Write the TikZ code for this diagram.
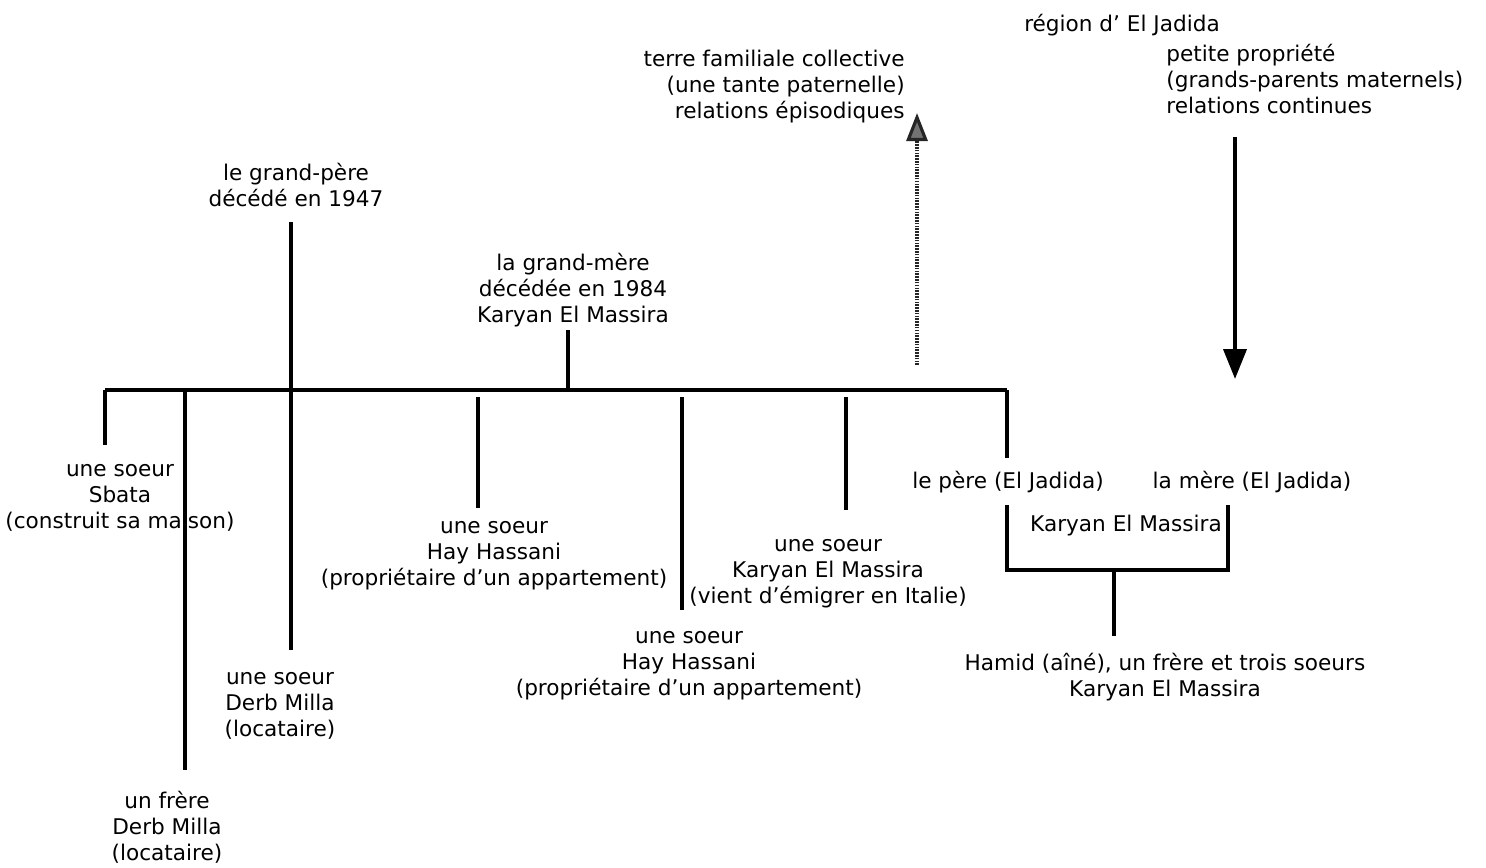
\documentclass[tikz,border=0pt]{standalone}
\usepackage{fontspec}
\setmainfont{DejaVu Sans}
\usetikzlibrary{arrows.meta}

\begin{document}
\begin{tikzpicture}[x=0.02cm,y=-0.02cm,
    lbl/.style={align=center,anchor=base,inner sep=0pt,font=\fontsize{12.3}{14.8}\selectfont},
    tree/.style={line width=1.9pt},
    faint/.style={draw=black!85,line width=1.8pt,dash pattern=on 0.9pt off 0.7pt,-{Triangle[width=12pt,length=16pt,fill=black!55]}},
    strong/.style={line width=2.3pt,-{Triangle[width=13pt,length=17pt]}}]
\useasboundingbox (0,0) rectangle (1486,867);

% outside links
\node[lbl,align=right,anchor=base east] (terre) at (905,118) {terre familiale collective\\(une tante paternelle)\\relations épisodiques};
\node[lbl] (region) at (1122,31) {région d' El Jadida};
\node[lbl,align=left,anchor=base west] (petite) at (1166,113) {petite propriété\\(grands-parents maternels)\\relations continues};

% grand-parents
\node[lbl] (gp) at (296,206) {le grand-père\\décédé en 1947};
\node[lbl] (gm) at (573,322) {la grand-mère\\décédée en 1984\\Karyan El Massira};

% children
\node[lbl] (s1) at (120,528) {une soeur\\Sbata\\(construit sa maison)};
\node[lbl] (f1) at (167,860) {un frère\\Derb Milla\\(locataire)};
\node[lbl] (s2) at (280,736) {une soeur\\Derb Milla\\(locataire)};
\node[lbl] (s3) at (494,585) {une soeur\\Hay Hassani\\(propriétaire d'un appartement)};
\node[lbl] (s4) at (689,695) {une soeur\\Hay Hassani\\(propriétaire d'un appartement)};
\node[lbl] (s5) at (828,603) {une soeur\\Karyan El Massira\\(vient d'émigrer en Italie)};
\node[lbl] (pere) at (1008,488) {le père (El Jadida)};
\node[lbl] (mere) at (1252,488) {la mère (El Jadida)};
\node[lbl] (karyan) at (1126,531) {Karyan El Massira};
\node[lbl] (hamid) at (1165,696) {Hamid (aîné), un frère et trois soeurs\\Karyan El Massira};

% tree points
\coordinate (barL) at (105,390);
\coordinate (barR) at (1007,390);
\coordinate (gpTop) at (291,222);
\coordinate (gmTop) at (568,330);
\coordinate (e1) at (105,445);
\coordinate (e2) at (185,770);
\coordinate (e3) at (291,650);
\coordinate (t4) at (478,397);
\coordinate (e4) at (478,508);
\coordinate (t5) at (682,397);
\coordinate (e5) at (682,610);
\coordinate (t6) at (846,397);
\coordinate (e6) at (846,510);
\coordinate (e7) at (1007,458);
\coordinate (pL) at (1007,505);
\coordinate (mR) at (1228,505);
\coordinate (cJ) at (1114,570);
\coordinate (cE) at (1114,636);

\draw[tree] (barL) -- (barR);
\draw[tree] (gpTop) -- (e3);
\draw[tree] (gmTop) -- (gmTop |- barL);
\draw[tree] (barL) -- (e1);
\draw[tree] (e2 |- barL) -- (e2);
\draw[tree] (t4) -- (e4);
\draw[tree] (t5) -- (e5);
\draw[tree] (t6) -- (e6);
\draw[tree] (barR) -- (e7);
\draw[tree] (pL) |- (cJ) -| (mR);
\draw[tree] (cJ) -- (cE);

% arrows
\coordinate (up0) at (917,365);
\coordinate (up1) at (917,113);
\coordinate (dn0) at (1235,137);
\coordinate (dn1) at (1235,379);
\draw[faint] (up0) -- (up1);
\draw[strong] (dn0) -- (dn1);
\end{tikzpicture}
\end{document}
